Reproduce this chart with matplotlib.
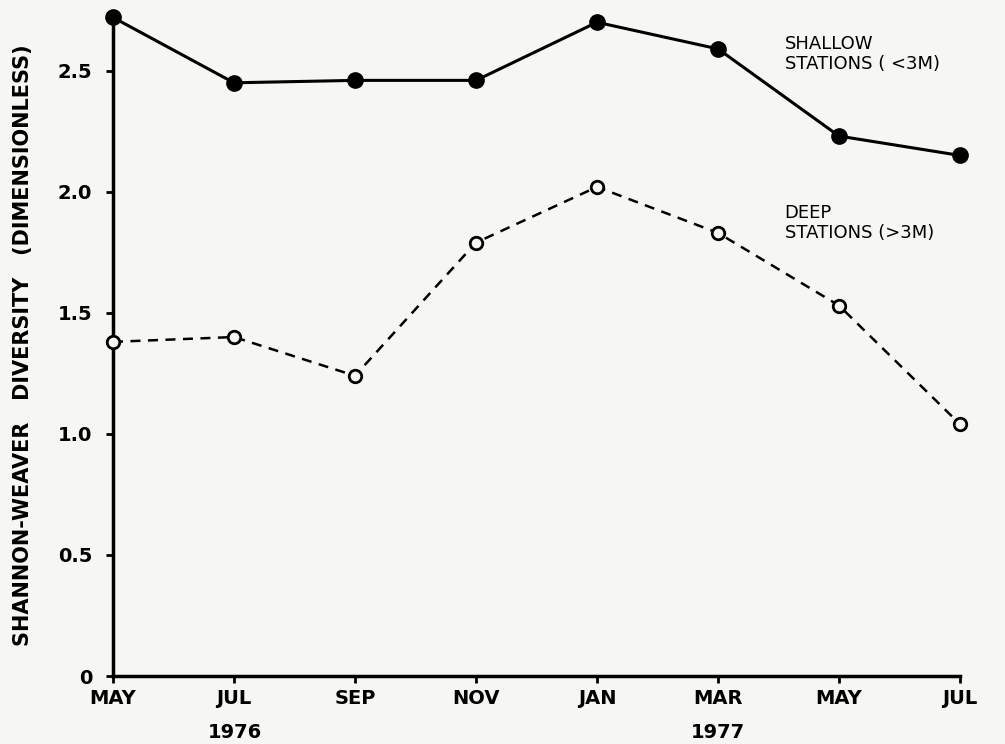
import numpy as np
import matplotlib.pyplot as plt

# Sampling months (May 1976 - Jul 1977)
months = ['MAY', 'JUL', 'SEP', 'NOV', 'JAN', 'MAR', 'MAY', 'JUL']
shallow = [2.72, 2.45, 2.46, 2.46, 2.70, 2.59, 2.23, 2.15]
deep = [1.38, 1.40, 1.24, 1.79, 2.02, 1.83, 1.53, 1.04]
yticks = [0, 0.5, 1.0, 1.5, 2.0, 2.5]
ytick_labels = ['0', '0.5', '1.0', '1.5', '2.0', '2.5']

plt.rcParams['font.family'] = 'DejaVu Sans'
plt.rcParams['font.weight'] = 'bold'

bg = '#f6f6f3'
fig = plt.figure(figsize=(10.05, 7.44), dpi=100, facecolor=bg)
ax = fig.add_axes([113/1005, 1-676/744, (960-113)/1005, (676-15)/744])
ax.set_facecolor(bg)

x = np.arange(len(months))

# Shallow stations: solid line, filled dots
ax.plot(x, shallow, '-', color='black', lw=2.2, marker='o', ms=11,
        mfc='black', mec='black', clip_on=False, zorder=3)
# Deep stations: dashed line, open circles
ax.plot(x, deep, '--', color='black', lw=1.8, dashes=(4, 3), marker='o', ms=9,
        mfc=bg, mec='black', mew=2, clip_on=False, zorder=3)

ax.set_xlim(0, 7)
ax.set_ylim(0, 2.73)
ax.set_xticks(x)
ax.set_xticklabels(months, fontsize=14, fontweight='bold')
ax.set_yticks(yticks)
ax.set_yticklabels(ytick_labels, fontsize=14, fontweight='bold')
ax.tick_params(axis='both', direction='out', length=5, width=2)
ax.tick_params(axis='x', pad=4)
ax.tick_params(axis='y', pad=10)

for s in ['top', 'right']:
    ax.spines[s].set_visible(False)
for s in ['left', 'bottom']:
    ax.spines[s].set_linewidth(2.5)

ax.set_ylabel('SHANNON-WEAVER   DIVERSITY   (DIMENSIONLESS)', fontsize=15,
              fontweight='bold')
ax.yaxis.set_label_coords(-0.094, 0.5)

ax.text(5.55, 2.57, 'SHALLOW\nSTATIONS ( <3M)', fontsize=13, fontweight='normal',
        va='center', ha='left', linespacing=1.15)
ax.text(5.55, 1.87, 'DEEP\nSTATIONS (>3M)', fontsize=13, fontweight='normal',
        va='center', ha='left', linespacing=1.15)

fig.text(235/1005, 1-733/744, '1976', fontsize=14, fontweight='bold', ha='center', va='center')
fig.text(718/1005, 1-733/744, '1977', fontsize=14, fontweight='bold', ha='center', va='center')

fig.savefig('out.png', dpi=100, facecolor=fig.get_facecolor())
